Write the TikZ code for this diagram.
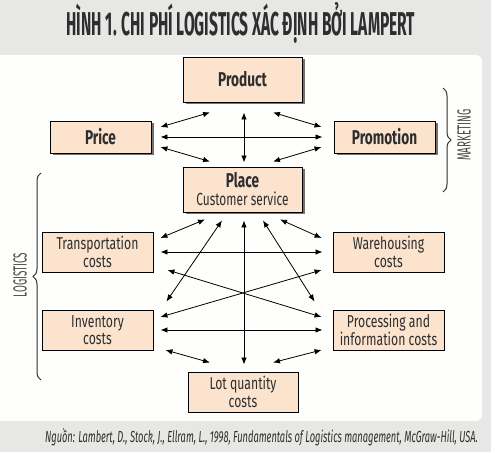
\documentclass[tikz,border=0pt]{standalone}
\usepackage{fontspec}
\setmainfont{Fira Sans}[FakeStretch=0.71]
\newfontfamily\boldlbl{Fira Sans}[FakeStretch=0.68]
\newfontfamily\ttlfont{Fira Sans}[FakeStretch=0.47]
\newfontfamily\sidefont{Fira Sans}[FakeStretch=0.52]
\newfontfamily\capfont{Fira Sans}[FakeStretch=0.58]
\usetikzlibrary{arrows.meta,calc,shadows,decorations.pathreplacing}
\definecolor{bg}{HTML}{E7E7E5}
\definecolor{panel}{HTML}{FEFEFC}
\definecolor{peach}{HTML}{FCE3CD}
\definecolor{ink}{HTML}{2E2E2E}
\definecolor{sidegray}{HTML}{4A4A4A}
\tikzset{
  mkbox/.style={draw=black, line width=0.9pt, fill=peach, inner sep=0pt, align=center, text=ink,
    font=\boldlbl\bfseries\fontsize{20}{20}\selectfont,
    drop shadow={shadow xshift=2.5pt, shadow yshift=-2.5pt, fill=black!55, opacity=1}},
  lgbox/.style={draw=black, line width=0.9pt, fill=peach, inner sep=0pt, align=center, text=ink,
    font=\fontsize{17.2}{17.5}\selectfont},
  link/.style={{Latex[length=7pt,width=5.5pt]}-{Latex[length=7pt,width=5.5pt]}, line width=0.8pt, black},
  sidebrace/.style={decorate, decoration={brace, amplitude=8pt}, line width=1pt, draw=ink}
}
\begin{document}
\begin{tikzpicture}[x=1pt,y=-1pt]
\useasboundingbox (0,0) rectangle (491,452);
\fill[bg] (0,0) rectangle (491,452);
\fill[panel, rounded corners=6pt] (-8,55) rectangle (482,421);
\node[text=ink, font=\ttlfont\bfseries\fontsize{33}{33}\selectfont] (title) at (241,23) {HÌNH 1. CHI PHÍ LOGISTICS XÁC ĐỊNH BỞI LAMPERT};
\node[text=ink, font=\capfont\itshape\fontsize{16}{16}\selectfont] (src) at (261.5,437) {Nguồn: Lambert, D., Stock, J., Ellram, L., 1998, Fundamentals of Logistics management, McGraw-Hill, USA.};

\node[mkbox, minimum width=119pt, minimum height=45pt] (product) at (242.5,79.5) {Product};
\node[mkbox, minimum width=101pt, minimum height=32pt] (price) at (100.5,137) {Price};
\node[mkbox, minimum width=101pt, minimum height=32pt] (promo) at (384.5,137) {Promotion};
\node[mkbox, minimum width=119pt, minimum height=45pt] (place) at (242.5,189.5) {Place\\[-2pt]{\mdseries\fontsize{17.5}{17}\selectfont Customer service}};

\node[lgbox, minimum width=111pt, minimum height=40pt] (trans) at (97.5,252) {Transportation\\costs};
\node[lgbox, minimum width=111pt, minimum height=40pt] (ware) at (388.5,252) {Warehousing\\costs};
\node[lgbox, minimum width=111pt, minimum height=40pt] (inv) at (97.5,330) {Inventory\\costs};
\node[lgbox, minimum width=111pt, minimum height=40pt] (proc) at (388.5,330) {Processing and\\information costs};
\node[lgbox, minimum width=110pt, minimum height=40pt] (lot) at (243,392) {Lot quantity\\costs};

% marketing
\draw[link] ($(price.east)+(9,-10)$) -- ($(product.south)+(-32.5,10)$);
\draw[link] ($(price.east)+(9,0)$) -- ($(promo.west)+(-11,0)$);
\draw[link] ($(price.east)+(9,10)$) -- ($(place.north)+(-32.5,-5)$);
\draw[link] ($(product.south)+(1.5,10)$) -- ($(place.north)+(1.5,-4)$);
\draw[link] ($(product.south)+(30.5,10)$) -- ($(promo.west)+(-12,-10)$);
\draw[link] ($(place.north)+(30.5,-5)$) -- ($(promo.west)+(-12,10)$);
% logistics
\draw[link] ($(trans.east)+(7,-14)$) -- ($(place.south)+(-37.5,7)$);
\draw[link] ($(inv.north east)+(13,-8)$) -- ($(place.south)+(-20.5,8)$);
\draw[link] ($(lot.north)+(1,-7)$) -- ($(place.south)+(1.5,8)$);
\draw[link] ($(proc.north west)+(-18,-8)$) -- ($(place.south)+(20.5,8)$);
\draw[link] ($(ware.west)+(-11,-14)$) -- ($(place.south)+(37.5,7)$);
\draw[link] ($(trans.east)+(7,0)$) -- ($(ware.west)+(-10,0)$);
\draw[link] ($(trans.east)+(14,18)$) -- ($(proc.west)+(-11,-13)$);
\draw[link] ($(inv.east)+(7,-13)$) -- ($(ware.west)+(-11,18)$);
\draw[link] ($(inv.east)+(7,0)$) -- ($(proc.west)+(-10,0)$);
\draw[link] ($(inv.east)+(12,20)$) -- ($(lot.north)+(-33,-9)$);
\draw[link] ($(proc.west)+(-11,20)$) -- ($(lot.north)+(30,-9)$);

% braces
\coordinate (mtop) at (443,88);
\coordinate (mbot) at (443,192);
\draw[sidebrace] (mtop) -- (mbot);
\node[rotate=90, text=sidegray, font=\sidefont\fontsize{19}{19}\selectfont] (mlabel) at (464,135) {MARKETING};
\coordinate (ltop) at (41,173);
\coordinate (lbot) at (41,380);
\draw[sidebrace] (lbot) -- (ltop);
\node[rotate=90, text=sidegray, font=\sidefont\fontsize{19}{19}\selectfont] (llabel) at (20,275) {LOGISTICS};
\end{tikzpicture}
\end{document}
